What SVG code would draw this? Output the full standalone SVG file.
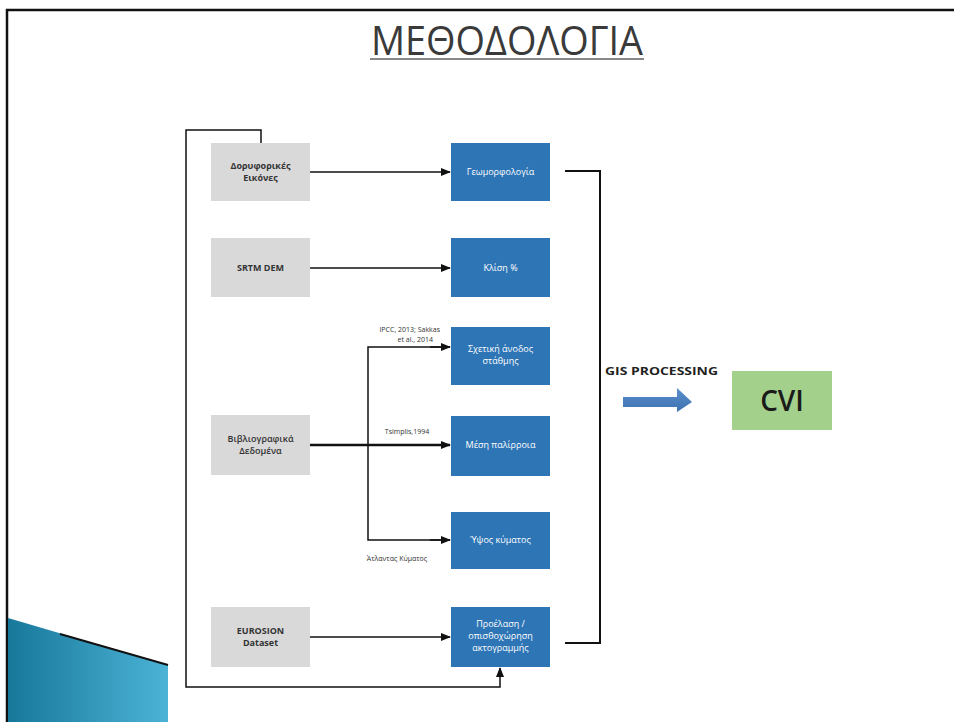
<svg xmlns="http://www.w3.org/2000/svg" width="954" height="722" viewBox="0 0 954 722">
<defs>
<style>
.grey{fill:#d9d9d9;}
.blue{fill:#2e75b6;}
.gt{font-family:"Open Sans","Liberation Sans",sans-serif;font-size:9px;font-weight:700;fill:#333;text-anchor:middle;}
.bt{font-family:"Open Sans","Liberation Sans",sans-serif;font-size:9px;fill:#fff;text-anchor:middle;}
.lbl{font-family:"Open Sans","Liberation Sans",sans-serif;font-size:7px;fill:#333;}
.ln{fill:none;stroke:#111;stroke-width:1.5;}
</style>
<marker id="ah" markerWidth="10" markerHeight="8" refX="9" refY="4" orient="auto" markerUnits="userSpaceOnUse">
<path d="M0,0 L10,4 L0,8 Z" fill="#111"/>
</marker>
<linearGradient id="wedge" x1="0" y1="0" x2="1" y2="0">
<stop offset="0" stop-color="#17789a"/>
<stop offset="1" stop-color="#4cb3d6"/>
</linearGradient>
<linearGradient id="barrow" x1="0" y1="0" x2="0" y2="1">
<stop offset="0" stop-color="#5b8fcc"/>
<stop offset="1" stop-color="#3d72b0"/>
</linearGradient>
</defs>
<rect x="0" y="0" width="954" height="722" fill="#fff"/>
<path d="M7,722 V10 H954" fill="none" stroke="#111" stroke-width="2.5"/>
<g id="wedge-deco">
<polygon points="8,618 168,665 168,722 8,722" fill="url(#wedge)"/>
<path d="M60,634 L168,665" stroke="#111" stroke-width="2" fill="none"/>
</g>
<g id="title">
<text x="507" y="55" font-family="Open Sans, Liberation Sans, sans-serif" font-size="40" fill="#3a3a3a" text-anchor="middle" textLength="272" lengthAdjust="spacingAndGlyphs">ΜΕΘΟΔΟΛΟΓΙΑ</text>
<line x1="370" y1="59" x2="644" y2="59" stroke="#888" stroke-width="2"/>
</g>
<g id="connectors">
<path class="ln" d="M261,143 V130 H186 V687 H500 V668" marker-end="url(#ah)"/>
<line class="ln" x1="310" y1="172" x2="450" y2="172" marker-end="url(#ah)"/>
<line class="ln" x1="310" y1="268" x2="450" y2="268" marker-end="url(#ah)"/>
<line x1="310" y1="445" x2="450" y2="445" stroke="#111" stroke-width="2.5" marker-end="url(#ah)"/>
<path class="ln" d="M450,347 H368 V540 H450"/>
<line class="ln" x1="430" y1="347" x2="450" y2="347" marker-end="url(#ah)"/>
<line class="ln" x1="430" y1="540" x2="450" y2="540" marker-end="url(#ah)"/>
<line class="ln" x1="310" y1="637" x2="450" y2="637" marker-end="url(#ah)"/>
<path d="M565,171 H600 V643 H565" fill="none" stroke="#111" stroke-width="2"/>
<polygon points="623,397 677,397 677,388 692,402 677,412 677,407 623,407" fill="url(#barrow)"/>
</g>
<g id="lbl-ipcc">
<text class="lbl" x="440" y="332" text-anchor="end">IPCC, 2013; Sakkas</text>
<text class="lbl" x="433" y="342" text-anchor="end">et al., 2014</text>
</g>
<g id="lbl-tsimplis"><text class="lbl" x="407" y="434" text-anchor="middle">Tsimplis,1994</text></g>
<g id="lbl-atlas"><text class="lbl" x="397" y="561" text-anchor="middle">Άτλαντας Κύματος</text></g>
<g id="n-sat">
<rect class="grey" x="211" y="143" width="99" height="58"/>
<text class="gt" x="260.5" y="169">Δορυφορικές</text>
<text class="gt" x="260.5" y="181">Εικόνες</text>
</g>
<g id="n-srtm">
<rect class="grey" x="211" y="238" width="99" height="59"/>
<text class="gt" x="260.5" y="271">SRTM DEM</text>
</g>
<g id="n-biblio">
<rect class="grey" x="211" y="415" width="99" height="60"/>
<text class="gt" x="260.5" y="442" style="font-weight:600">Βιβλιογραφικά</text>
<text class="gt" x="260.5" y="454" style="font-weight:600">Δεδομένα</text>
</g>
<g id="n-eurosion">
<rect class="grey" x="211" y="607" width="99" height="60"/>
<text class="gt" x="260.5" y="634">EUROSION</text>
<text class="gt" x="260.5" y="646">Dataset</text>
</g>
<g id="n-geomorph">
<rect class="blue" x="451" y="143" width="99" height="58"/>
<text class="bt" x="500.5" y="175">Γεωμορφολογία</text>
</g>
<g id="n-slope">
<rect class="blue" x="451" y="238" width="99" height="59"/>
<text class="bt" x="500.5" y="271">Κλίση %</text>
</g>
<g id="n-sea">
<rect class="blue" x="451" y="327" width="99" height="58"/>
<text class="bt" x="500.5" y="352">Σχετική άνοδος</text>
<text class="bt" x="500.5" y="364">στάθμης</text>
</g>
<g id="n-tide">
<rect class="blue" x="451" y="416" width="99" height="60"/>
<text class="bt" x="500.5" y="448">Μέση παλίρροια</text>
</g>
<g id="n-wave">
<rect class="blue" x="451" y="512" width="99" height="57"/>
<text class="bt" x="500.5" y="543">Ύψος κύματος</text>
</g>
<g id="n-shore">
<rect class="blue" x="451" y="607" width="99" height="60"/>
<text class="bt" x="500.5" y="627">Προέλαση /</text>
<text class="bt" x="500.5" y="639">οπισθοχώρηση</text>
<text class="bt" x="500.5" y="651">ακτογραμμής</text>
</g>
<g id="gis-label">
<text x="605" y="375" font-family="Open Sans, Liberation Sans, sans-serif" font-size="11" font-weight="700" fill="#222" textLength="113" lengthAdjust="spacingAndGlyphs">GIS PROCESSING</text>
</g>
<g id="n-cvi">
<rect x="732" y="371" width="100" height="59" fill="#a3d08a"/>
<text x="782" y="411" font-family="Open Sans, Liberation Sans, sans-serif" font-size="28" font-weight="600" fill="#1a1a1a" text-anchor="middle">CVI</text>
</g>
</svg>
